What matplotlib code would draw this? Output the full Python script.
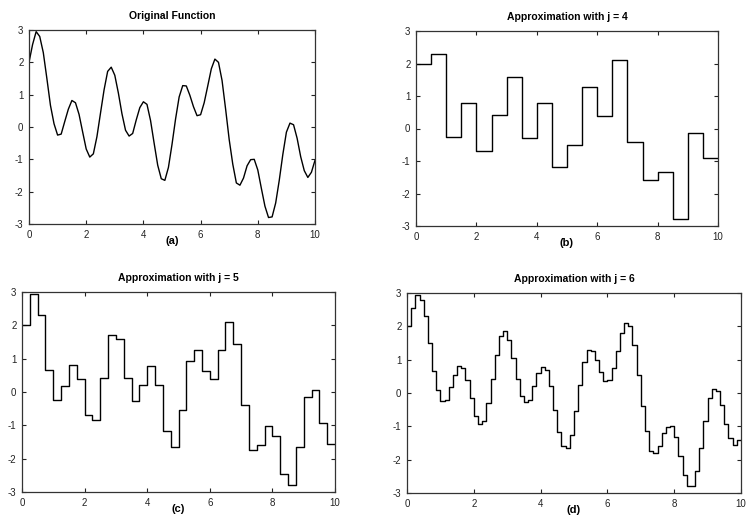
import matplotlib
matplotlib.use("Agg")
import matplotlib.pyplot as plt
import numpy as np

plt.rcParams['font.family'] = ['Liberation Sans', 'DejaVu Sans']
plt.rcParams['axes.unicode_minus'] = False

x_curve = np.arange(81) * 0.125
f_curve = [2.00, 2.55, 2.95, 2.80, 2.30, 1.50, 0.67, 0.10,
           -0.25, -0.22, 0.17, 0.55, 0.82, 0.75, 0.39, -0.15,
           -0.68, -0.93, -0.83, -0.30, 0.43, 1.15, 1.72, 1.85,
           1.60, 1.05, 0.41, -0.10, -0.28, -0.20, 0.22, 0.60,
           0.78, 0.70, 0.20, -0.50, -1.18, -1.60, -1.65, -1.25,
           -0.54, 0.25, 0.93, 1.28, 1.27, 0.98, 0.63, 0.35,
           0.38, 0.75, 1.27, 1.80, 2.10, 2.00, 1.44, 0.55,
           -0.39, -1.15, -1.73, -1.80, -1.58, -1.20, -1.01, -1.00,
           -1.33, -1.90, -2.45, -2.80, -2.78, -2.35, -1.65, -0.85,
           -0.16, 0.12, 0.07, -0.35, -0.92, -1.35, -1.56, -1.40,
           -1.03]

# step approximations (value on each interval)
approx_j4 = [2.0, 2.3, -0.25, 0.8, -0.68, 0.42, 1.58, -0.28, 0.8, -1.18,
             -0.52, 1.27, 0.37, 2.1, -0.4, -1.58, -1.35, -2.78, -0.15, -0.92]
approx_j5 = [2.0, 2.95, 2.3, 0.67, -0.25, 0.17, 0.82, 0.39, -0.68, -0.83,
             0.43, 1.72, 1.6, 0.41, -0.28, 0.22, 0.78, 0.2, -1.18, -1.65,
             -0.54, 0.93, 1.27, 0.63, 0.38, 1.27, 2.1, 1.44, -0.39, -1.73,
             -1.58, -1.01, -1.33, -2.45, -2.78, -1.65, -0.16, 0.07, -0.92, -1.56]
approx_j6 = f_curve[:-1]

titles = ['Original Function', 'Approximation with j = 4',
          'Approximation with j = 5', 'Approximation with j = 6']
labels = ['(a)', '(b)', '(c)', '(d)']

W, H = 747, 526
# axes boxes in pixels: left, top, right, bottom
boxes = [(29, 30, 315, 224), (416, 31, 718, 226),
         (22, 292, 335, 492), (407, 293, 741, 493)]

fig = plt.figure(figsize=(W / 100, H / 100), dpi=100)


def step_xy(vals):
    n = len(vals)
    xs = np.linspace(0, 10, n + 1)
    ys = list(vals) + [vals[-1]]
    return xs, ys


for i, (l, t, r, b) in enumerate(boxes):
    ax = fig.add_axes([l / W, 1 - b / H, (r - l) / W, (b - t) / H])
    if i == 0:
        ax.plot(x_curve, f_curve, color='k', lw=1.0)
    else:
        vals = [approx_j4, approx_j5, approx_j6][i - 1]
        xs, ys = step_xy(vals)
        ax.plot(xs, ys, color='k', lw=1.0, drawstyle='steps-post')
    ax.set_xlim(0, 10)
    ax.set_ylim(-3, 3)
    ax.set_xticks(range(0, 11, 2))
    ax.set_yticks(range(-3, 4))
    ax.tick_params(direction='in', length=3, width=0.8, labelsize=7,
                   top=True, right=True, pad=4, colors='#222222')
    for s in ax.spines.values():
        s.set_linewidth(0.9)
        s.set_color('#333333')
    ax.set_title(titles[i], fontsize=7.5, fontweight='bold', pad=8)
    # panel letter, centred ~17 px under the axes
    ax.text(0.5, -17 / (b - t), labels[i], transform=ax.transAxes,
            ha='center', va='center', fontsize=8, fontweight='bold')

fig.savefig('out.png', dpi=100)
